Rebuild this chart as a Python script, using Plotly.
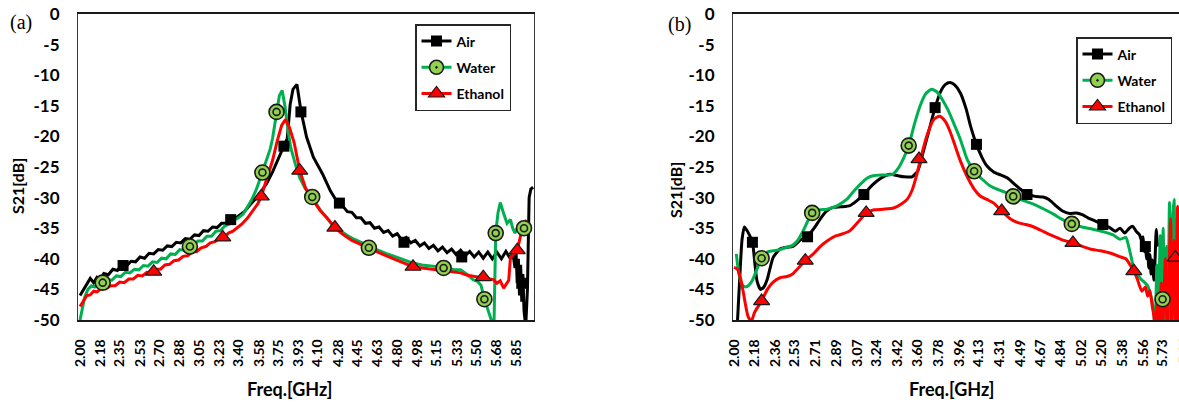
import plotly.graph_objects as go

# ---------------- tick labels ----------------
a_tick_labels = ["2.00", "2.18", "2.35", "2.53", "2.70", "2.88", "3.05", "3.23", "3.40", "3.58", "3.75", "3.93",
                 "4.10", "4.28", "4.45", "4.63", "4.80", "4.98", "5.15", "5.33", "5.50", "5.68", "5.85"]
b_tick_labels = ["2.00", "2.18", "2.36", "2.53", "2.71", "2.89", "3.07", "3.24", "3.42", "3.60", "3.78", "3.96",
                 "4.13", "4.31", "4.49", "4.67", "4.84", "5.02", "5.20", "5.38", "5.56", "5.73", "5.91"]
y_tick_values = [0, -5, -10, -15, -20, -25, -30, -35, -40, -45, -50]

series_names = ["Air", "Water", "Ethanol"]

# ---------------- panel (a) ----------------
a_air_f = [2.00, 2.03, 2.06, 2.09, 2.12, 2.15, 2.18, 2.21, 2.25, 2.29,
           2.33, 2.37, 2.41, 2.45, 2.49, 2.53, 2.57, 2.61, 2.65, 2.69,
           2.73, 2.77, 2.81, 2.85, 2.89, 2.93, 2.97, 3.01, 3.05, 3.09,
           3.13, 3.17, 3.21, 3.25, 3.29, 3.33, 3.37, 3.41, 3.45, 3.50,
           3.55, 3.60, 3.65, 3.70, 3.75, 3.80, 3.83, 3.855, 3.88, 3.915,
           3.95, 4.00, 4.06, 4.14, 4.21, 4.28, 4.32, 4.36, 4.40, 4.44,
           4.48, 4.52, 4.56, 4.60, 4.64, 4.68, 4.72, 4.76, 4.80, 4.84,
           4.88, 4.92, 4.96, 5.00, 5.04, 5.08, 5.12, 5.16, 5.20, 5.24,
           5.28, 5.32, 5.36, 5.40, 5.44, 5.48, 5.52, 5.56, 5.60, 5.64,
           5.68, 5.72, 5.76, 5.80, 5.82, 5.84, 5.85, 5.86, 5.87, 5.88,
           5.89, 5.90, 5.91, 5.92, 5.935, 5.95, 5.965, 5.98, 6.00]
a_air_db = [-46.0, -45.0, -44.2, -43.2, -43.9, -43.0, -43.3, -42.4, -42.6, -41.7,
            -41.9, -41.0, -41.2, -40.4, -40.5, -39.7, -39.9, -39.1, -39.2, -38.5,
            -38.6, -37.9, -38.0, -37.3, -37.4, -36.7, -36.8, -36.1, -36.2, -35.4,
            -35.5, -34.8, -34.9, -34.2, -34.2, -33.5, -33.4, -32.8, -32.3, -31.2,
            -30.2, -29.0, -27.6, -25.8, -23.6, -21.6, -20.3, -14.8, -12.3, -11.5,
            -15.8, -20.1, -23.4, -26.1, -28.9, -31.0, -31.4, -32.3, -32.4, -33.3,
            -33.3, -34.2, -34.1, -35.0, -34.8, -35.7, -35.4, -36.3, -35.9, -36.9,
            -36.5, -37.4, -37.0, -37.9, -37.4, -38.3, -37.8, -38.7, -38.1, -39.0,
            -38.4, -39.3, -38.6, -39.5, -38.8, -39.7, -38.9, -39.9, -38.9, -40.0,
            -38.9, -40.0, -38.8, -40.0, -38.8, -41.5, -39.2, -44.0, -40.0, -46.0,
            -41.0, -47.0, -42.5, -48.5, -51.0, -45.0, -30.0, -28.6, -28.3]
a_air_mark_f = [2.38, 3.33, 3.80, 3.95, 4.29, 4.86, 5.37, 5.90]
a_air_mark_db = [-41.1, -33.6, -21.6, -16.0, -30.9, -37.3, -39.7, -44.0]

a_water_f = [2.00, 2.02, 2.04, 2.07, 2.10, 2.13, 2.16, 2.20, 2.24, 2.28,
             2.32, 2.36, 2.40, 2.44, 2.48, 2.52, 2.56, 2.60, 2.64, 2.68,
             2.72, 2.76, 2.80, 2.84, 2.88, 2.92, 2.96, 3.00, 3.04, 3.08,
             3.12, 3.16, 3.20, 3.24, 3.28, 3.32, 3.36, 3.40, 3.44, 3.48,
             3.52, 3.56, 3.60, 3.64, 3.68, 3.70, 3.735, 3.76, 3.785, 3.81,
             3.84, 3.86, 3.90, 3.94, 3.99, 4.05, 4.12, 4.18, 4.24, 4.30,
             4.36, 4.42, 4.48, 4.55, 4.62, 4.70, 4.78, 4.86, 4.94, 5.02,
             5.10, 5.21, 5.30, 5.36, 5.42, 5.47, 5.51, 5.54, 5.57, 5.60,
             5.64, 5.655, 5.66, 5.67, 5.69, 5.71, 5.74, 5.77, 5.80, 5.82,
             5.84, 5.86, 5.88, 5.92, 5.95]
a_water_db = [-50.0, -48.2, -46.3, -45.0, -44.4, -44.6, -43.9, -44.1, -43.4, -43.5,
              -42.8, -42.9, -42.2, -42.3, -41.7, -41.8, -41.1, -41.2, -40.5, -40.6,
              -39.9, -40.0, -39.2, -39.3, -38.5, -38.6, -37.8, -37.9, -37.1, -37.1,
              -36.3, -36.3, -35.5, -35.4, -34.6, -34.3, -33.7, -33.3, -32.7, -31.5,
              -30.2, -28.5, -26.4, -24.3, -22.0, -20.3, -15.8, -13.3, -12.5, -15.2,
              -19.5, -21.8, -24.5, -26.8, -28.6, -30.0, -32.0, -33.4, -34.7, -35.4,
              -36.2, -36.8, -37.3, -38.0, -38.5, -39.1, -39.6, -40.2, -40.7, -41.0,
              -41.2, -41.4, -41.8, -41.8, -42.6, -43.4, -43.7, -44.3, -46.6, -48.3,
              -50.5, -50.5, -42.0, -35.8, -32.5, -30.8, -32.6, -34.2, -33.6, -35.0,
              -35.8, -35.0, -35.6, -35.0, -34.6]
a_water_mark_f = [2.20, 2.97, 3.61, 3.735, 4.05, 4.55, 5.21, 5.57, 5.67, 5.92]
a_water_mark_db = [-43.9, -38.0, -25.9, -16.0, -29.9, -38.2, -41.5, -46.6, -35.8, -35.0]

a_eth_f = [2.00, 2.03, 2.06, 2.09, 2.12, 2.15, 2.19, 2.23, 2.27, 2.31,
           2.35, 2.39, 2.43, 2.47, 2.51, 2.55, 2.59, 2.63, 2.67, 2.71,
           2.75, 2.79, 2.83, 2.87, 2.91, 2.95, 2.99, 3.03, 3.07, 3.11,
           3.15, 3.19, 3.23, 3.27, 3.31, 3.35, 3.39, 3.43, 3.48, 3.53,
           3.57, 3.60, 3.65, 3.70, 3.74, 3.78, 3.815, 3.85, 3.89, 3.94,
           3.99, 4.04, 4.12, 4.18, 4.25, 4.32, 4.40, 4.48, 4.55, 4.62,
           4.70, 4.78, 4.86, 4.94, 5.02, 5.10, 5.17, 5.24, 5.30, 5.36,
           5.42, 5.48, 5.54, 5.60, 5.65, 5.68, 5.71, 5.74, 5.77, 5.785,
           5.80, 5.83, 5.86, 5.89, 5.92, 5.94]
a_eth_db = [-47.8, -47.0, -46.0, -45.9, -45.3, -45.4, -44.8, -44.9, -44.4, -44.4,
            -43.8, -43.9, -43.3, -43.3, -42.7, -42.8, -42.2, -42.3, -41.7, -41.7,
            -41.0, -40.9, -40.3, -40.2, -39.6, -39.5, -38.9, -38.8, -38.2, -38.0,
            -37.4, -37.2, -36.7, -36.5, -35.8, -35.5, -34.9, -34.3, -33.3, -32.0,
            -31.0, -29.8, -26.7, -23.9, -20.8, -18.2, -17.2, -18.6, -21.0, -25.6,
            -28.4, -30.0, -32.1, -33.3, -34.9, -36.0, -37.0, -37.7, -38.3, -38.9,
            -39.5, -40.1, -40.7, -41.3, -41.5, -41.7, -41.8, -42.0, -42.1, -42.3,
            -42.7, -42.9, -43.1, -43.2, -43.4, -44.0, -43.6, -44.8, -44.0, -43.5,
            -39.8, -39.2, -38.6, -36.2, -34.6, -33.6]
a_eth_mark_f = [2.65, 3.26, 3.60, 3.94, 4.25, 4.94, 5.56, 5.86]
a_eth_mark_db = [-42.1, -36.5, -29.8, -25.6, -34.9, -41.3, -43.0, -38.6]

# ---------------- panel (b) ----------------
b_air_f = [2.025, 2.05, 2.07, 2.09, 2.12, 2.16, 2.18, 2.20, 2.23, 2.26,
           2.29, 2.34, 2.40, 2.46, 2.51, 2.58, 2.64, 2.70, 2.75, 2.80,
           2.86, 2.93, 3.01, 3.07, 3.13, 3.19, 3.25, 3.31, 3.36, 3.42,
           3.48, 3.55, 3.60, 3.64, 3.69, 3.75, 3.80, 3.84, 3.88, 3.92,
           3.97, 4.02, 4.06, 4.11, 4.16, 4.20, 4.26, 4.32, 4.38, 4.44,
           4.49, 4.55, 4.62, 4.69, 4.74, 4.80, 4.86, 4.92, 4.98, 5.03,
           5.08, 5.14, 5.21, 5.27, 5.32, 5.36, 5.40, 5.44, 5.47, 5.50,
           5.53, 5.55, 5.56, 5.57, 5.58, 5.59, 5.60, 5.61, 5.62, 5.63,
           5.64, 5.655, 5.665, 5.675, 5.685]
b_air_db = [-52.0, -43.0, -36.8, -34.8, -35.6, -37.3, -40.5, -43.6, -45.0, -44.6,
            -43.3, -39.8, -38.4, -38.1, -38.0, -36.9, -36.3, -34.9, -33.5, -32.3,
            -31.6, -31.5, -31.3, -30.5, -29.5, -28.2, -27.2, -26.5, -26.2, -26.4,
            -26.6, -26.6, -25.6, -23.0, -19.5, -15.3, -12.6, -11.5, -11.2, -11.6,
            -12.9, -15.5, -18.4, -21.3, -23.5, -24.8, -25.8, -26.3, -26.8, -27.8,
            -28.6, -29.4, -29.8, -29.9, -30.3, -31.3, -32.2, -32.6, -32.5, -32.8,
            -33.3, -33.8, -34.4, -34.9, -35.5, -35.0, -35.8, -35.0, -34.7, -35.5,
            -36.1, -37.2, -36.4, -38.8, -37.5, -40.0, -38.5, -41.5, -39.3, -42.5,
            -40.2, -43.5, -40.0, -35.2, -38.0]
b_air_mark_f = [2.16, 2.64, 3.13, 3.75, 4.11, 4.55, 5.21, 5.58]
b_air_mark_db = [-37.3, -36.4, -29.5, -15.3, -21.3, -29.5, -34.4, -38.0]

b_water_f = [2.02, 2.04, 2.07, 2.10, 2.13, 2.16, 2.20, 2.24, 2.29, 2.34,
             2.40, 2.46, 2.51, 2.55, 2.60, 2.65, 2.68, 2.74, 2.81, 2.90,
             2.98, 3.04, 3.10, 3.16, 3.22, 3.30, 3.38, 3.43, 3.48, 3.52,
             3.57, 3.62, 3.67, 3.72, 3.77, 3.82, 3.86, 3.92, 3.97, 4.03,
             4.09, 4.16, 4.23, 4.30, 4.37, 4.43, 4.52, 4.61, 4.70, 4.78,
             4.86, 4.94, 5.03, 5.13, 5.22, 5.30, 5.36, 5.41, 5.43, 5.46,
             5.48, 5.51, 5.54, 5.57, 5.60, 5.62, 5.64, 5.655, 5.665, 5.68,
             5.69, 5.71, 5.72, 5.735, 5.75, 5.765, 5.775, 5.79, 5.80, 5.815,
             5.83, 5.84, 5.86, 5.87, 5.88]
b_water_db = [-39.2, -42.2, -44.2, -44.6, -44.3, -43.5, -41.7, -39.9, -38.9, -38.7,
              -38.5, -38.1, -37.8, -37.1, -35.5, -33.5, -32.5, -32.0, -31.9, -31.3,
              -30.3, -29.0, -27.8, -26.8, -26.4, -26.3, -26.2, -25.2, -23.4, -21.5,
              -18.0, -15.0, -13.0, -12.3, -12.8, -14.2, -15.6, -18.2, -20.5, -23.8,
              -25.7, -27.0, -28.1, -28.7, -29.2, -29.8, -30.5, -31.1, -31.9, -32.7,
              -33.6, -34.3, -34.8, -35.2, -35.6, -36.1, -36.8, -36.5, -37.6, -40.0,
              -41.7, -42.5, -43.3, -43.8, -44.4, -45.5, -47.1, -49.3, -52.0, -41.0,
              -52.0, -36.2, -52.0, -35.0, -52.0, -38.0, -52.0, -30.8, -52.0, -34.0,
              -30.3, -52.0, -33.0, -52.0, -36.0]
b_water_mark_f = [2.24, 2.68, 3.52, 4.09, 4.43, 4.94, 5.73]
b_water_mark_db = [-39.9, -32.5, -21.5, -25.7, -29.8, -34.3, -46.6]

b_eth_f = [2.00, 2.03, 2.06, 2.08, 2.12, 2.15, 2.18, 2.24, 2.29, 2.34,
           2.40, 2.46, 2.51, 2.55, 2.62, 2.69, 2.75, 2.81, 2.88, 2.95,
           3.01, 3.08, 3.15, 3.22, 3.30, 3.39, 3.46, 3.51, 3.55, 3.59,
           3.63, 3.68, 3.74, 3.79, 3.84, 3.88, 3.92, 3.97, 4.03, 4.09,
           4.14, 4.20, 4.26, 4.33, 4.40, 4.47, 4.54, 4.61, 4.70, 4.78,
           4.87, 4.95, 5.02, 5.10, 5.19, 5.28, 5.35, 5.41, 5.46, 5.48,
           5.51, 5.55, 5.58, 5.60, 5.62, 5.64, 5.655, 5.67, 5.685, 5.70,
           5.72, 5.73, 5.755, 5.77, 5.80, 5.81, 5.83, 5.845, 5.86, 5.875]
b_eth_db = [-41.4, -41.7, -43.5, -45.4, -49.3, -50.2, -48.7, -46.9, -45.0, -43.8,
            -43.1, -42.9, -42.5, -41.7, -40.3, -39.2, -38.0, -37.1, -36.3, -35.9,
            -35.4, -34.0, -32.5, -32.0, -31.9, -31.7, -31.0, -30.2, -28.8, -26.3,
            -23.2, -19.8, -17.2, -16.7, -17.6, -19.2, -21.3, -24.0, -26.6, -28.6,
            -29.7, -30.3, -30.9, -32.2, -33.4, -34.1, -34.4, -34.8, -35.6, -36.3,
            -37.0, -37.4, -37.9, -38.4, -38.7, -39.1, -39.6, -40.0, -41.4, -42.0,
            -43.3, -45.3, -44.6, -46.1, -45.2, -47.7, -49.4, -52.0, -46.0, -52.0,
            -44.0, -52.0, -40.0, -52.0, -33.5, -52.0, -37.0, -52.0, -31.4, -52.0]
b_eth_mark_f = [2.24, 2.62, 3.15, 3.61, 4.33, 4.95, 5.48, 5.84]
b_eth_mark_db = [-46.9, -40.3, -32.5, -23.7, -32.2, -37.4, -42.0, -39.8]

# ---------------- styling ----------------
W, H = 1179, 411
BLACK, GREEN, RED, LGREEN = "#000000", "#00B050", "#FF0000", "#92D050"
TICK_FONT = "Lato"
A_RANGE = [1.982, 6.008]
B_RANGE = [1.991, 5.873]
A_DOM = [78 / W, 534 / W]
B_DOM = [733 / W, 1.0]

fig = go.Figure()


def add_panel(xa, ya, legend, lines, marks, shape):
    colors = [BLACK, GREEN, RED]
    for (f, v), c in zip(lines, colors):
        fig.add_trace(go.Scatter(x=f, y=v, mode="lines", xaxis=xa, yaxis=ya, showlegend=False,
                                 line=dict(color=c, width=3, shape=shape, smoothing=0.6),
                                 hoverinfo="skip"))
    (af, av), (wf, wv), (ef, ev) = marks
    fig.add_trace(go.Scatter(x=af, y=av, mode="markers", xaxis=xa, yaxis=ya, showlegend=False,
                             marker=dict(symbol="square", size=11, color=BLACK)))
    fig.add_trace(go.Scatter(x=wf, y=wv, mode="markers", xaxis=xa, yaxis=ya, showlegend=False,
                             marker=dict(symbol="circle", size=15, color=LGREEN,
                                         line=dict(color="#1a1a1a", width=1.6))))
    fig.add_trace(go.Scatter(x=wf, y=wv, mode="markers", xaxis=xa, yaxis=ya, showlegend=False,
                             marker=dict(symbol="circle-open", size=7, color="#1a1a1a",
                                         line=dict(width=1.6))))
    fig.add_trace(go.Scatter(x=ef, y=ev, mode="markers", xaxis=xa, yaxis=ya, showlegend=False,
                             marker=dict(symbol="triangle-up", size=14, color=RED,
                                         line=dict(color="#1a1a1a", width=1.2))))
    # legend entries
    legend_markers = [dict(symbol="square", size=11, color=BLACK),
                      dict(symbol="circle-dot", size=14, color=LGREEN, line=dict(color="#1a1a1a", width=1.6)),
                      dict(symbol="triangle-up", size=14, color=RED, line=dict(color="#1a1a1a", width=1.2))]
    for name, c, m in zip(series_names, colors, legend_markers):
        fig.add_trace(go.Scatter(x=[None], y=[None], mode="lines+markers", name=name, xaxis=xa, yaxis=ya,
                                 legend=legend, legendgroup=legend + name,
                                 line=dict(color=c, width=3), marker=m))


add_panel("x", "y", "legend",
          [(a_air_f, a_air_db), (a_water_f, a_water_db), (a_eth_f, a_eth_db)],
          [(a_air_mark_f, a_air_mark_db), (a_water_mark_f, a_water_mark_db), (a_eth_mark_f, a_eth_mark_db)],
          "linear")
add_panel("x2", "y2", "legend2",
          [(b_air_f, b_air_db), (b_water_f, b_water_db), (b_eth_f, b_eth_db)],
          [(b_air_mark_f, b_air_mark_db), (b_water_mark_f, b_water_mark_db), (b_eth_mark_f, b_eth_mark_db)],
          "spline")

tickfont_x = dict(family=TICK_FONT, size=14, color="black", weight="bold")
tickfont_y = dict(family=TICK_FONT, size=17, color="black", weight="bold")


def xaxis_cfg(dom, rng, labels, mirror):
    vals = [float(t) for t in labels]
    return dict(domain=dom, range=rng, tickvals=vals, ticktext=labels, tickangle=-90,
                tickfont=tickfont_x, ticks="", ticklabelstandoff=12, automargin=False,
                showline=True, linecolor="#1a1a1a", linewidth=1.5, mirror=mirror,
                showgrid=False, zeroline=False, fixedrange=True)


def yaxis_cfg(anchor, mirror):
    return dict(domain=[0, 1], range=[-50, 0], anchor=anchor, tickvals=y_tick_values,
                ticktext=[str(v) for v in y_tick_values], tickfont=tickfont_y, ticks="",
                ticklabelstandoff=14, showline=True, linecolor="#3a3a3a", linewidth=1.2,
                mirror=mirror, showgrid=False, zeroline=False, fixedrange=True, automargin=False)


legend_common = dict(xanchor="left", yanchor="top", bgcolor="white", bordercolor="#262626",
                     borderwidth=1.5, tracegroupgap=5, itemclick=False, itemdoubleclick=False,
                     font=dict(family=TICK_FONT, size=14, color="black", weight="bold"))

fig.update_layout(
    width=W, height=H, margin=dict(l=0, r=0, t=14, b=91, autoexpand=False),
    paper_bgcolor="white", plot_bgcolor="white",
    xaxis=xaxis_cfg(A_DOM, A_RANGE, a_tick_labels, True),
    yaxis=yaxis_cfg("x", True),
    xaxis2=xaxis_cfg(B_DOM, B_RANGE, b_tick_labels, True),
    yaxis2=yaxis_cfg("x2", False),
    legend=dict(x=415 / W, y=(320 - 24) / 306, **legend_common),
    legend2=dict(x=1076 / W, y=(320 - 37) / 306, **legend_common),
)
fig.update_layout(xaxis2_anchor="y2", xaxis_anchor="y")

title_font = dict(family=TICK_FONT, size=18, color="black", weight="bold")
ytitle_font = dict(family=TICK_FONT, size=16, color="black", weight="bold")
panel_font = dict(family="Liberation Serif", size=20, color="black")
ann = [
    dict(text="(a)", x=21 / W, y=(320 - 22) / 306, font=panel_font),
    dict(text="(b)", x=679 / W, y=(320 - 24) / 306, font=panel_font),
    dict(text="Freq.[GHz]", x=290 / W, y=(320 - 389) / 306, font=title_font),
    dict(text="Freq.[GHz]", x=952 / W, y=(320 - 389) / 306, font=title_font),
    dict(text="S21[dB]", x=17 / W, y=(320 - 186) / 306, font=ytitle_font, textangle=-90),
    dict(text="S21[dB]", x=675 / W, y=(320 - 190) / 306, font=ytitle_font, textangle=-90),
]
# tick label lying just past the clipped right edge of panel (b)
for lab in b_tick_labels:
    v = float(lab)
    if v > B_RANGE[1]:
        px = B_DOM[0] + (v - B_RANGE[0]) / (B_RANGE[1] - B_RANGE[0]) * (B_DOM[1] - B_DOM[0])
        ann.append(dict(text=lab, x=px, y=(320 - 334) / 306, yanchor="top", textangle=-90, font=tickfont_x))
for a in ann:
    a.setdefault("yanchor", "middle")
    fig.add_annotation(xref="paper", yref="paper", showarrow=False, xanchor="center", **a)

fig.write_html("out.html", config={"displayModeBar": False},
               post_script="document.body.style.margin='0px';document.body.style.overflow='hidden';")
